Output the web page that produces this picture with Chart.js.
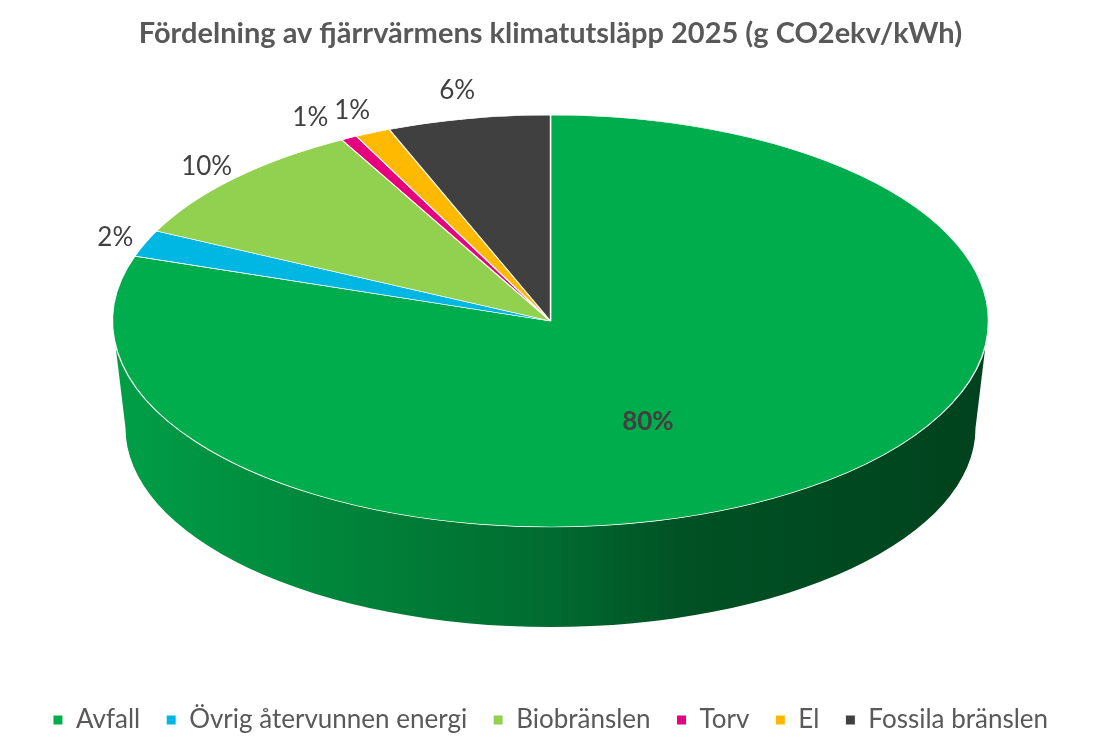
<!DOCTYPE html>
<html>
<head>
<meta charset="utf-8">
<script src="https://cdn.jsdelivr.net/npm/chart.js@4.4.1/dist/chart.umd.min.js"></script>
<style>
  html, body { margin: 0; background: #fff; }
  #wrap { width: 1101px; height: 743px; }
</style>
</head>
<body>
<div id="wrap"><canvas id="grafico"></canvas></div>
<script>
const titel = 'Fördelning av fjärrvärmens klimatutsläpp 2025 (g CO2ekv/kWh)'
const kategorier = ['Avfall', 'Övrig återvunnen energi', 'Biobränslen', 'Torv', 'El', 'Fossila bränslen']
const andelar = [80.1, 2.1, 9.9, 0.6, 1.3, 6.0]
const farger = ['#00AD4D', '#00B7E3', '#92D050', '#E6007E', '#FFB900', '#404040']

// ellipser for toppytan och botten, ger 3D-intrycket
const topp = { cy: 321, rx: 438, ry: 206 }
const botten = { cy: 428, rx: 425, ry: 199 }
const skugga = [[0, 0.92], [0.33, 0.72], [0.5, 0.62], [0.65, 0.47], [1, 0.38]]

function mork(hex, f) {
  const n = parseInt(hex.slice(1), 16)
  return 'rgb(' + Math.round((n >> 16 & 255) * f) + ',' + Math.round((n >> 8 & 255) * f) + ',' + Math.round((n & 255) * f) + ')'
}

const pie3d = {
  id: 'pie3d',
  beforeDatasetsDraw(chart) {
    const ctx = chart.ctx
    const meta = chart.getDatasetMeta(0)
    const a0 = meta.data[0]
    const cx = a0.x
    ctx.save()
    // sidan (bara framre halvan syns)
    meta.data.forEach((arc, i) => {
      const s = Math.max(arc.startAngle, 0)
      const e = Math.min(arc.endAngle, Math.PI)
      if (s >= e) return
      const g = ctx.createLinearGradient(cx - topp.rx, 0, cx + topp.rx, 0)
      skugga.forEach(([p, f]) => g.addColorStop(p, mork(farger[i], f)))
      ctx.beginPath()
      ctx.ellipse(cx, topp.cy, topp.rx, topp.ry, 0, s, e)
      ctx.ellipse(cx, botten.cy, botten.rx, botten.ry, 0, e, s, true)
      ctx.closePath()
      ctx.fillStyle = g
      ctx.fill()
    })
    // cirkeln -> ellips
    const r = a0.outerRadius
    ctx.translate(cx, topp.cy)
    ctx.scale(topp.rx / r, topp.ry / r)
    ctx.translate(-a0.x, -a0.y)
  },
  afterDatasetsDraw(chart) {
    const ctx = chart.ctx
    ctx.restore()
    const meta = chart.getDatasetMeta(0)
    const cx = meta.data[0].x
    const summa = andelar.reduce((a, b) => a + b, 0)
    ctx.save()
    ctx.textAlign = 'center'
    ctx.textBaseline = 'middle'
    ctx.fillStyle = '#404040'
    let forra = null
    for (let i = meta.data.length - 1; i >= 0; i--) {
      const arc = meta.data[i]
      const andel = andelar[i] / summa
      const txt = Math.round(andel * 100) + '%'
      const mid = (arc.startAngle + arc.endAngle) / 2
      if (andel > 0.25) {
        ctx.font = 'bold 26px Lato'
        ctx.fillText(txt, cx + topp.rx * 0.38 * Math.cos(mid), topp.cy + topp.ry * 0.6 * Math.sin(mid))
        continue
      }
      ctx.font = '26px Lato'
      const ex = topp.rx * Math.cos(mid), ey = topp.ry * Math.sin(mid)
      const l = Math.hypot(ex, ey)
      let x = cx + ex + ex / l * 30
      const y = topp.cy + ey + ey / l * 30
      const w = ctx.measureText(txt).width
      if (forra && x + w / 2 > forra.x - forra.w / 2 - 6 && Math.abs(y - forra.y) < 24) {
        x = forra.x - forra.w / 2 - 6 - w / 2
      }
      ctx.fillText(txt, x, y)
      forra = { x, y, w }
    }
    ctx.restore()
  }
}

Chart.defaults.font.family = 'Lato'

new Chart(document.getElementById('grafico'), {
  type: 'pie',
  data: {
    labels: kategorier,
    datasets: [{
      data: andelar,
      backgroundColor: farger,
      borderColor: '#ffffff',
      borderWidth: 1,
      clip: false
    }]
  },
  options: {
    responsive: true,
    maintainAspectRatio: false,
    animation: false,
    layout: { padding: { bottom: 0 } },
    plugins: {
      title: {
        display: true,
        text: titel,
        color: '#595959',
        font: { size: 29, weight: 'bold' },
        padding: { top: 16, bottom: 10 }
      },
      legend: {
        position: 'bottom',
        labels: {
          boxWidth: 10,
          boxHeight: 10,
          padding: 26,
          color: '#595959',
          font: { size: 26 }
        }
      },
      tooltip: { enabled: false }
    }
  },
  plugins: [pie3d]
})
</script>
</body>
</html>
